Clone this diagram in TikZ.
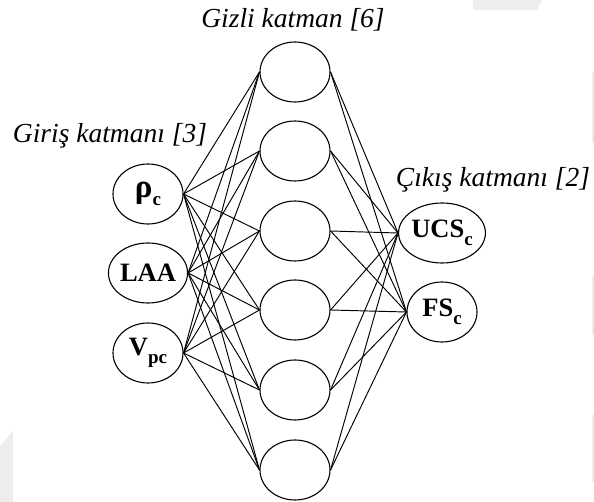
\documentclass[tikz,border=0pt]{standalone}
\usepackage{fontspec}
\setmainfont{Liberation Serif}
\usetikzlibrary{shapes.geometric}
\newcommand{\lsb}[1]{\raisebox{-0.28em}{\fontsize{19}{19}\selectfont #1}}
\tikzset{
  neuron/.style={ellipse, draw, line width=1.1pt, minimum width=70pt, minimum height=60pt, inner sep=0pt,
    font=\fontsize{26.5}{26.5}\selectfont\bfseries},
  conn/.style={line width=0.95pt},
  layerlabel/.style={anchor=base, inner sep=0pt, font=\fontsize{27.5}{27.5}\selectfont\itshape},
  wm/.style={fill=black!7, draw=none}
}
\begin{document}
\begin{tikzpicture}[x=1pt,y=-1pt]
\useasboundingbox (0,0) rectangle (594,502);
% faint background marks
\fill[wm] (473,0) -- (542,0) -- (537,10) -- (473,10) -- cycle;
\fill[wm] (592,72) rectangle (594,143);
\fill[wm] (592,276) rectangle (594,335);
\fill[wm] (592,415) rectangle (594,482);
\fill[wm] (0,446) -- (13,431) -- (13,502) -- (0,502) -- cycle;
% labels
\node[layerlabel] (lh) at (293,28) {Gizli katman [6]};
\node[layerlabel] (li) at (110,143) {Giriş katmanı [3]};
\node[layerlabel] (lo) at (493,187) {Çıkış katmanı [2]};
% input
\node[neuron] (i1) at (148,194) {{\fontsize{33}{33}\selectfont ρ}\lsb{c}};
\node[neuron] (i2) at (148,273) {LAA};
\node[neuron] (i3) at (148,353) {V\lsb{pc}};
% hidden
\node[neuron] (h1) at (295,72) {};
\node[neuron] (h2) at (295,151) {};
\node[neuron] (h3) at (295,231) {};
\node[neuron] (h4) at (295,310) {};
\node[neuron] (h5) at (295,390) {};
\node[neuron] (h6) at (295,470) {};
% output
\node[neuron] (o1) at (442,233) {UCS\lsb{c}};
\node[neuron] (o2) at (442,312) {FS\lsb{c}};
% connections
\foreach \i in {1,2,3}{
  \foreach \h in {1,...,6}{
    \draw[conn] (i\i.east) -- (h\h.west);
  }
}
\foreach \h in {1,...,6}{
  \foreach \o in {1,2}{
    \draw[conn] (h\h.east) -- (o\o.west);
  }
}
\end{tikzpicture}
\end{document}
